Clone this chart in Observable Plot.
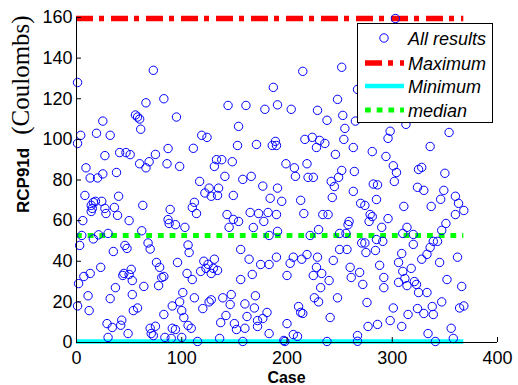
<!DOCTYPE html>
<html>
<head>
<meta charset="utf-8">
<script src="https://cdn.jsdelivr.net/npm/d3@7"></script>
<script src="https://cdn.jsdelivr.net/npm/@observablehq/plot@0.6"></script>
<style>
  body { margin: 0; background: #fff; }
  #chart { position: relative; width: 518px; height: 385px; }
  .legend {
    position: absolute; left: 357px; top: 23px; width: 134px; height: 98px;
    border: 1px solid #000; background: #fff;
  }
  .legend svg { display: block; }
</style>
</head>
<body>
<div id="chart"></div>
<script>
// Charge passed per simulated case (Coulombs)
const cases = [
  1,73,83,66,56,58,60,61,25,4,1,19,32,87,27,41,47,51,75,60,66,69,86,25,38,9,13,20,
  8,16,18,24,14,15,14,27,28,40,36,39,63,89,6,50,87,88,94,5,21,16,30,62,68,70,46,48,3,35,95,98,
  1,2,7,13,11,12,23,29,30,32,34,37,43,42,44,45,49,50,52,53,53,54,58,64,70,71,73,75,76,79,
  78,81,83,83,84,90,91,91,94,96,98,100,102,100,101,
  187,144,161,179,191,154,119,124,111,153,171,186,189,190,133,138,148,131,141,158,166,117,
  126,135,122,128,134,149,177,191,184,112,110,114,143,149,154,145,165,173,182,190,178,168,103,183,191,106,107,156,
  105,106,109,110,112,115,118,120,121,123,125,128,130,131,134,126,128,136,137,139,142,146,147,150,152,156,158,160,160,162,
  164,167,169,170,172,172,175,177,181,183,183,190,
  215,252,267,204,248,229,238,253,255,265,217,224,231,228,236,254,263,246,281,199,207,219,252,264,208,220,225,242,249,
  245,282,286,195,213,263,243,270,274,285,216,234,239,279,278,281,259,258,222,230,250,256,271,274,285,250,257,275,284,206,
  214,219,229,244,
  197,198,200,200,203,206,210,211,213,215,225,228,226,230,232,233,238,240,241,248,260,261,267,267,269,272,276,277,286,288,
  303,313,298,296,354,336,294,301,304,325,328,350,302,324,330,349,360,363,368,346,337,311,360,351,296,290,314,320,291,310,
  347,339,343,336,333,320,309,362,
  292,292,298,301,306,306,309,310,312,314,315,318,321,323,325,324,328,330,333,334,338,339,341,345,347,352,356,358,364,368,366
];
const charge = [
  128,134,120,118,112,111,110,105,109,102,98,103,102,95.5,92,93.5,93.5,92.5,92.6,88,86,89,88,83,83.7,86,81,81,
  72.4,69,69.5,69.5,67.5,66,64.5,66,63.5,72,66.5,62.6,67.5,65.5,60,60,60.5,58.6,58,52.7,53,51,53.7,55,49,46,47.8,46.3,47.8,44.8,111,86.7,
  18,29,32.5,34,23,15.7,37,9.3,2.5,21.6,7.4,27,11,8.5,33,34,4.4,33.5,36,30.5,23.6,15.7,17,27.6,7,4.4,3.4,8,39.4,37,
  28,32,32.5,13.8,2.5,2,18,7,6.4,39.4,20,15.7,12.3,2.5,24.6,
  125.6,116.7,116.7,114.8,117,106.4,102,101,95.6,97,97.5,97,99,97,90,90,89,86.7,81.8,80.3,81.8,79.3,
  76,76,73.6,72,72.4,72.4,77,76,71,69,66.5,63.5,63,60.6,59.6,56.7,64,63.5,64,63,59.6,56.6,56.7,52.7,54.7,48,44.3,45.8,
  34,8.4,7,31,22,0.5,35,16.7,40,36.5,38.5,34,36.5,41,35.5,20,21,2,9.8,22,13.3,18.7,23.6,9.3,6.4,31,0.5,7,19,12.8,
  41,33.5,17,23,7.9,10.8,38.4,11.8,14.8,38.4,4.4,42,
  133.5,135.5,124.6,114.8,119.7,114.3,109.4,111.8,105.4,109,100,101,99.5,96,98,100,96,92.6,94,88,86,88,84.7,84.2,81.8,81.3,81.3,79.3,81.3,
  76.8,78,77.6,69.5,70,74.4,71.4,68.5,67.5,70.4,63.5,63,63,63,59.6,62,59.6,58,52.7,55.6,53.7,53.7,49,49,50.7,45.8,45.8,44.3,45.3,42,
  41,43.3,42,40.4,
  1,0.5,9.3,33,39,3.9,3,17.7,14.8,14.3,33,37,22,20,27,34,0.5,30.5,12.3,22,37,32,0.6,3.4,34.5,28.6,19.7,7.9,8.9,38,
  159.5,107.4,104,100.5,103.4,96.5,91.6,87,83.7,85.2,86.2,83.3,79.3,76.4,74.9,74.9,72,68.5,65,70.5,67,67,63,58.6,61,56.7,56.7,53.2,49.8,53.7,
  55.2,49.8,49.8,46.8,43.4,48.3,43.8,42,
  32,27,10.8,17,39.4,29.6,7.9,35,31.5,28,13.8,36.5,30,28.6,24.6,16.7,41,14.3,24.6,4.4,17.7,13.8,0.5,39.4,20,31,7,2,17,18,27.6
];
const xTicks = [0, 100, 200, 300, 400];
const yTicks = [0, 20, 40, 60, 80, 100, 120, 140, 160];
const legendLabels = ["All results", "Maximum", "Minimum", "median"];

const results = cases.map((c, i) => ({case: c, charge: charge[i]}));
const maxCharge = d3.max(charge);
const minCharge = d3.min(charge);
const medianCharge = d3.median(charge);
const lastCase = d3.max(cases);

const styles = {
  all: {stroke: "#0000ff"},
  max: {stroke: "#ff0000", strokeWidth: 5.5, strokeDasharray: "17,6,5,7"},
  min: {stroke: "#00ffff", strokeWidth: 4.5},
  median: {stroke: "#00ff00", strokeWidth: 5, strokeDasharray: "5.8,5.9"}
};

const chart = Plot.plot({
  width: 518,
  height: 385,
  marginLeft: 76,
  marginRight: 21,
  marginTop: 17,
  marginBottom: 43,
  style: {fontFamily: "Liberation Sans, Arial, sans-serif", fontSize: "18px", color: "#000", background: "#fff"},
  x: {domain: [0, 400]},
  y: {domain: [0, 160]},
  marks: [
    Plot.ruleY([minCharge], {x1: 0, x2: lastCase, ...styles.min}),
    Plot.ruleY([medianCharge], {x1: 0, x2: lastCase, ...styles.median}),
    Plot.ruleY([maxCharge], {x1: 0, x2: lastCase, ...styles.max}),
    Plot.dot(results, {x: "case", y: "charge", r: 4.2, stroke: styles.all.stroke, strokeWidth: 1, fill: "none"}),
    Plot.ruleX([0], {stroke: "#000"}),
    Plot.ruleY([0], {stroke: "#000"}),
    Plot.axisX({ticks: xTicks, tickSize: -5, tickPadding: 14, label: null}),
    Plot.axisY({ticks: yTicks, tickSize: -5, tickPadding: 9, label: null})
  ]
});

const container = document.getElementById("chart");
container.appendChild(chart);

// Axis titles: the y title mixes a bold sans name with a serif unit
const svg = d3.select(chart);
const ylab = svg.append("text")
  .attr("transform", "translate(29,213) rotate(-90)")
  .attr("text-anchor", "start")
  .attr("fill", "#000");
ylab.append("tspan")
  .attr("font-family", "Liberation Sans, Arial, sans-serif")
  .attr("font-weight", "bold")
  .attr("font-size", 17)
  .text("RCP91d");
ylab.append("tspan")
  .attr("dx", 13)
  .attr("font-family", "Liberation Serif, Times New Roman, serif")
  .attr("font-size", 25)
  .text("(Coulombs)");
svg.append("text")
  .attr("x", 286.5).attr("y", 383)
  .attr("text-anchor", "middle")
  .attr("font-family", "Liberation Sans, Arial, sans-serif")
  .attr("font-weight", "bold")
  .attr("font-size", 16)
  .attr("fill", "#000")
  .text("Case");

// Legend box
const legend = d3.select(container).append("div").attr("class", "legend");
const lsvg = legend.append("svg").attr("width", 134).attr("height", 98);
const rowY = [14, 39, 62, 86];
lsvg.append("circle").attr("cx", 26).attr("cy", rowY[0]).attr("r", 4.2)
  .attr("fill", "none").attr("stroke", styles.all.stroke).attr("stroke-width", 1);
[["max", 1], ["min", 2], ["median", 3]].forEach(([k, row]) => {
  const s = styles[k];
  lsvg.append("line")
    .attr("x1", 7).attr("x2", 46).attr("y1", rowY[row]).attr("y2", rowY[row])
    .attr("stroke", s.stroke).attr("stroke-width", s.strokeWidth)
    .attr("stroke-dasharray", s.strokeDasharray || null);
});
legendLabels.forEach((t, i) => {
  lsvg.append("text")
    .attr("x", 50).attr("y", rowY[i] + 6.5)
    .attr("font-family", "Liberation Sans, Arial, sans-serif")
    .attr("font-style", "italic")
    .attr("font-size", 18)
    .attr("fill", "#000")
    .text(t);
});
</script>
</body>
</html>
